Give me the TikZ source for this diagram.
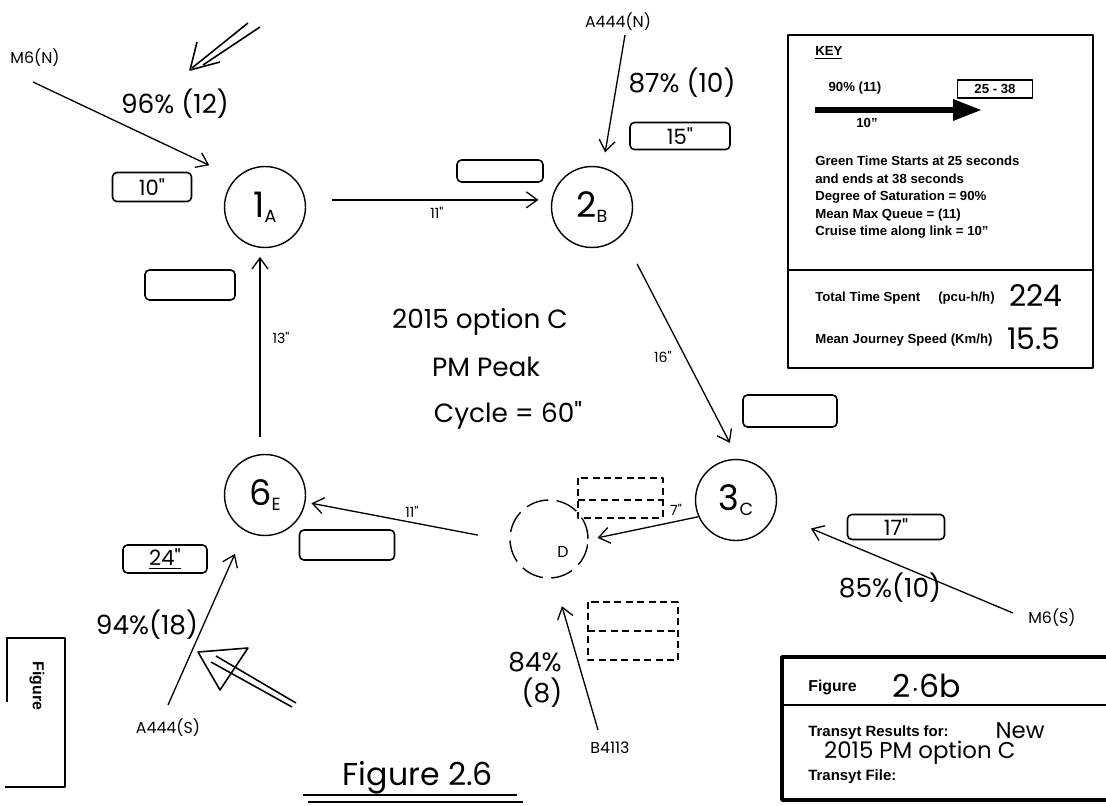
\documentclass[tikz,border=0pt]{standalone}
\usepackage{fontspec}
\setmainfont{Liberation Sans}
\newfontfamily\hand{Poppins}
\usetikzlibrary{arrows.meta}
\newcommand{\junc}[2]{{\fontsize{20}{22}\selectfont#1}\raisebox{-0.5ex}{\fontsize{10}{11}\selectfont#2}}

\begin{document}
\begin{tikzpicture}[x=0.02cm,y=-0.02cm,line join=round,
  >={Straight Barb[length=2.2mm,width=3.2mm]},
  junction/.style={circle,draw,line width=0.8pt,minimum size=1.62cm,inner sep=0pt,font=\hand},
  ghost/.style={circle,draw,line width=0.8pt,dash pattern=on 0.45cm off 0.17cm,minimum size=1.56cm,inner sep=0pt},
  link/.style={->,line width=0.75pt},
  greenbox/.style={draw,line width=0.9pt,rounded corners=2.5pt,inner sep=0pt,font=\hand\fontsize{12}{13}\selectfont},
  dashbox/.style={line width=0.8pt,dash pattern=on 4pt off 2.5pt},
  dos/.style={font=\hand\fontsize{15}{17}\selectfont},
  road/.style={font=\hand\fontsize{9}{10}\selectfont},
  cruise/.style={font=\hand\fontsize{8}{9}\selectfont},
  keytext/.style={font=\bfseries\fontsize{7.5}{9}\selectfont,inner sep=0pt}]

\useasboundingbox (0,0) rectangle (1106,805);

% ================= junctions =================
\node[junction] (n1A) at (265,207) {\junc{1}{A}};
\node[junction] (n2B) at (592,207) {\junc{2}{B}};
\node[junction] (n3C) at (736,500) {\junc{3}{C}};
\node[junction] (n6E) at (265,495) {\junc{6}{E}};
\node[ghost] (nD) at (549,539) {};
\node[font=\hand\fontsize{9}{10}\selectfont] (lD) at (563,552) {D};

% ================= internal links =================
\draw[link,shorten <=0.52cm,shorten >=0.26cm] (n1A.10) -- (n2B.170);
\node[cruise] (c12) at (437,213) {11"};
\draw[link,shorten <=0.65cm,shorten >=0.36cm] (n2B.-43) -- (n3C.87);
\node[cruise] (c23) at (663,357) {16"};
\draw[link,shorten >=0.18cm] (n3C.204) -- (nD.-1);
\node[cruise] (c3D) at (676,510) {7"};
\draw[link,shorten <=0.64cm,shorten >=0.12cm] (nD.183) -- (n6E.-10);
\node[cruise] (cD6) at (412,512) {11"};
\draw[link,shorten <=0.34cm,shorten >=0.18cm] (n6E.97) -- (n1A.-97);
\node[cruise] (c61) at (281,338) {13"};

% ================= entry links =================
\node[road] (mN) at (35,58) {M6(N)};
\coordinate (mNs) at (33,82);
\draw[link,shorten >=0.59cm] (mNs) -- (n1A.135);
\node[dos] (dmN) at (175,104) {96\% (12)};

\node[road] (aN) at (618,22) {A444(N)};
\coordinate (aNs) at (625,35);
\draw[link,shorten >=0.3cm] (aNs) -- (n2B.75);
\node[dos] (daN) at (682,83) {87\% (10)};

\node[road] (mS) at (1052,618) {M6(S)};
\coordinate (mSs) at (1013,613);
\draw[link,shorten >=0.78cm] (mSs) -- (n3C.-19);
\node[dos] (dmS) at (890,588) {85\%(10)};

\node[road] (bS) at (610,748) {B4113};
\coordinate (bSs) at (598,730);
\draw[link,shorten >=0.58cm] (bSs) -- (nD.-83);
\node[dos] (dbS) at (535,662) {84\%};
\node[dos] (qbS) at (542,693) {(8)};

\node[road] (aS) at (168,728) {A444(S)};
\coordinate (aSs) at (168,705);
\draw[link,shorten >=0.5cm] (aSs) -- (n6E.-119);
\node[dos] (daS) at (147,625) {94\%(18)};

% ================= green time boxes =================
\node[greenbox,minimum width=1.58cm,minimum height=0.58cm] (g1) at (152,187) {10"};
\node[greenbox,minimum width=1.72cm,minimum height=0.44cm] (g2) at (500,171) {};
\node[greenbox,minimum width=2.0cm,minimum height=0.54cm] (g3) at (680,136) {15"};
\node[greenbox,minimum width=1.8cm,minimum height=0.6cm] (g4) at (190,285) {};
\node[greenbox,minimum width=1.88cm,minimum height=0.64cm] (g5) at (790,411) {};
\node[greenbox,minimum width=1.94cm,minimum height=0.5cm] (g6) at (896,527) {17"};
\node[greenbox,minimum width=1.68cm,minimum height=0.56cm] (g7) at (165,559) {\underline{24"}};
\node[greenbox,minimum width=1.9cm,minimum height=0.6cm] (g8) at (347,545) {};
% dummy stage boxes
\draw[dashbox] (578,478) rectangle (663,518) (578,500) -- (663,500);
\draw[dashbox] (588,602) rectangle (678,660) (588,631) -- (678,631);

% ================= notes and arrows =================
\node[dos,align=left] (title) at (480,322) {2015 option C};
\node[dos] (peak) at (486,367) {PM Peak};
\node[dos] (cyc) at (508,415) {Cycle = 60"};
\draw[line width=0.9pt] (248,23) -- (192,68) (260,27) -- (203,65);
\draw[line width=0.9pt] (197,42) -- (190,70) -- (220,62);
\draw[line width=0.9pt] (198,652) -- (248,648) -- (220,690) -- cycle;
\draw[line width=0.9pt] (211,662) -- (292,707) (216,656) -- (296,703);
\node[font=\hand\fontsize{18}{20}\selectfont] (fig) at (418,778) {Figure 2.6};
\draw[line width=1.2pt] (303,795) -- (517,795) (308,802) -- (523,802);

% ================= key =================
\draw[line width=1.1pt] (788,35) rectangle (1093,368) (788,270) -- (1093,270);
\node[keytext,anchor=west] (kkey) at (815,53) {\underline{KEY}};
\node[keytext] (kdos) at (855,88) {90\% (11)};
\node[keytext,draw,line width=1.1pt,minimum width=1.5cm,minimum height=0.36cm] (kgrn) at (995,89) {25 - 38};
\draw[line width=3.4pt] (815,110) -- (956,110);
\fill (953,99) -- (981,110) -- (953,121) -- cycle;
\node[keytext] (kcru) at (867,123) {10"};
\node[keytext,anchor=north west,align=left,font=\bfseries\fontsize{7.5}{9.9}\selectfont] (ktxt) at (815,156)
  {Green Time Starts at 25 seconds\\and ends at 38 seconds\\Degree of Saturation = 90\%\\Mean Max Queue = (11)\\Cruise time along link = 10"};
\node[keytext,anchor=west] (ktts) at (815,298) {Total Time Spent};
\node[keytext,anchor=east] (kttu) at (995,298) {(pcu-h/h)};
\node[keytext,anchor=west] (kmjs) at (815,340) {Mean Journey Speed (Km/h)};
\node[font=\hand\fontsize{17}{19}\selectfont] (vtts) at (1036,296) {224};
\node[font=\hand\fontsize{17}{19}\selectfont] (vmjs) at (1034,339) {15.5};

% ================= figure boxes =================
\draw[line width=2pt] (1106,657) -- (782,657) -- (782,800) -- (1106,800);
\draw[line width=1.5pt] (782,705) -- (1106,705);
\node[keytext,font=\bfseries\fontsize{9}{10}\selectfont,anchor=west] (ffig) at (808,687) {Figure};
\node[font=\hand\fontsize{18}{20}\selectfont] (fnum) at (927,686) {2$\cdot$6b};
\node[keytext,font=\bfseries\fontsize{8.5}{10}\selectfont,anchor=west] (fres) at (808,733) {Transyt Results for:};
\node[font=\hand\fontsize{13}{14}\selectfont] (fnew) at (1020,731) {New};
\node[font=\hand\fontsize{13}{14}\selectfont,anchor=west] (fopt) at (818,753) {2015 PM option C};
\node[keytext,font=\bfseries\fontsize{8.5}{10}\selectfont,anchor=west] (ffile) at (808,777) {Transyt File:};
\draw[line width=1.3pt] (7,702) -- (7,638) -- (65,638) -- (65,787) -- (5,787);
\node[keytext,font=\bfseries\fontsize{9}{10}\selectfont,rotate=-90] (sfig) at (37,686) {Figure};
\end{tikzpicture}
\end{document}
